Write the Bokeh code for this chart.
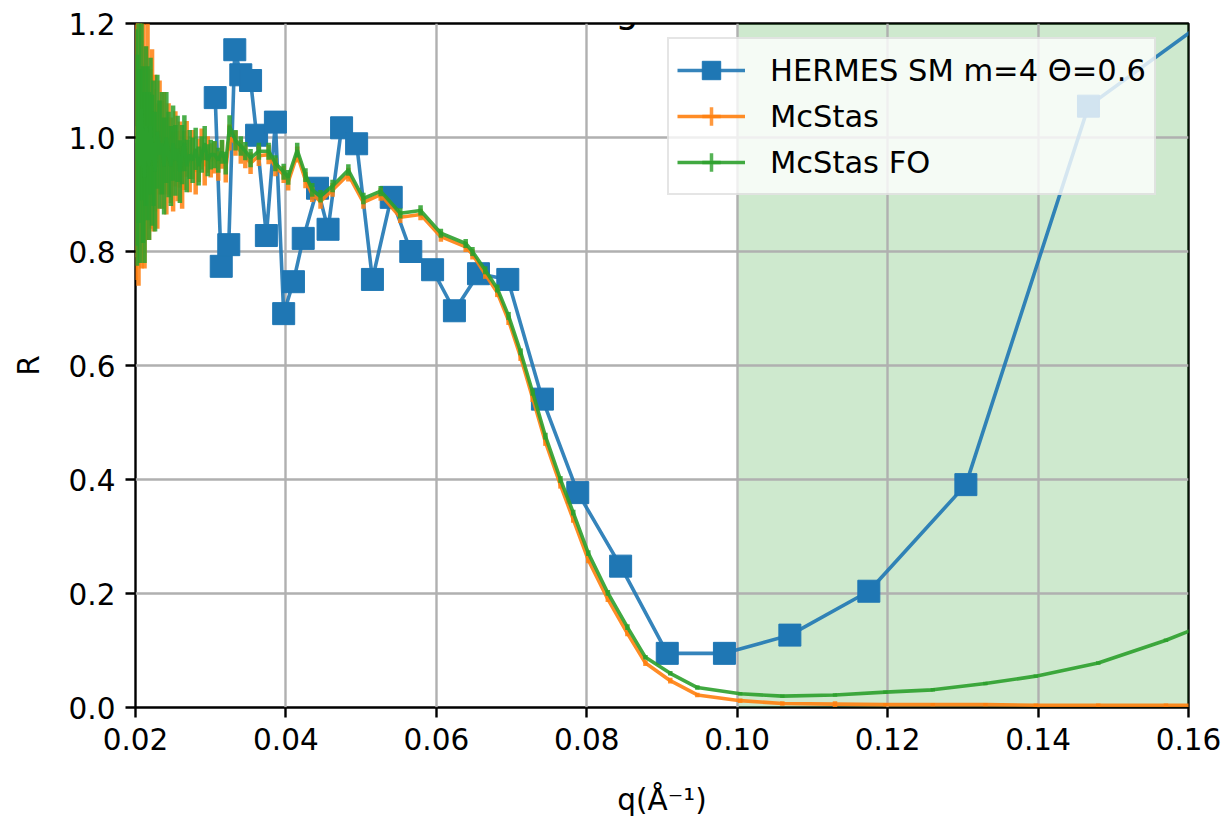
import numpy as np
from bokeh.plotting import figure
from bokeh.models import (ColumnDataSource, BoxAnnotation, Legend, LegendItem,
                          FixedTicker, NumeralTickFormatter, Label, Range1d)
from bokeh.embed import file_html
from bokeh.resources import INLINE

# ---------------- data ----------------
TITLE = "Counting time: 2.5 h"
X_LABEL = "q(Å⁻¹)"
Y_LABEL = "R"
X_TICKS = [0.02, 0.04, 0.06, 0.08, 0.10, 0.12, 0.14, 0.16]
Y_TICKS = [0.0, 0.2, 0.4, 0.6, 0.8, 1.0, 1.2]
SHADE_FROM = 0.10
SHADE_TO = 0.20

hermes_label = "HERMES SM m=4 Θ=0.6"
hermes_q = [0.0306, 0.0314, 0.0324, 0.0332, 0.0340, 0.0353, 0.0361, 0.0374, 0.0386,
            0.0397, 0.0410, 0.0423, 0.0442, 0.0456, 0.0474, 0.0494, 0.0515, 0.0540,
            0.0566, 0.0595, 0.0624, 0.0656, 0.0695, 0.0741, 0.0788, 0.0845, 0.0907,
            0.0983, 0.1070, 0.1175, 0.1304, 0.1467, 0.1670]
hermes_r = [1.070, 0.774, 0.812, 1.154, 1.110, 1.100, 1.004, 0.828, 1.027,
            0.691, 0.747, 0.823, 0.911, 0.839, 1.017, 0.989, 0.751, 0.895,
            0.800, 0.768, 0.696, 0.761, 0.751, 0.541, 0.377, 0.248, 0.095,
            0.095, 0.127, 0.204, 0.391, 1.055, 1.250]

mc_q = [0.0200, 0.0202, 0.0204, 0.0206, 0.0208, 0.0210, 0.0212, 0.0214, 0.0216, 0.0218,
        0.0220, 0.0222, 0.0224, 0.0226, 0.0229, 0.0232, 0.0235, 0.0238, 0.0241, 0.0244,
        0.0247, 0.0250, 0.0253, 0.0256, 0.0259, 0.0262, 0.0265, 0.0268, 0.0272, 0.0276,
        0.0280, 0.0284, 0.0288, 0.0292, 0.0296, 0.0300,
        0.0305, 0.0310, 0.0315, 0.0320, 0.0325, 0.0333, 0.0340, 0.0346, 0.0353, 0.0364,
        0.0377, 0.0386, 0.0397, 0.0403, 0.0415, 0.0426, 0.0435, 0.0446, 0.0462, 0.0483,
        0.0503, 0.0526, 0.0552, 0.0579, 0.0606, 0.0639, 0.0648, 0.0665, 0.0681, 0.0696,
        0.0712, 0.0728, 0.0745, 0.0765, 0.0782, 0.0802, 0.0828, 0.0854, 0.0878, 0.0911,
        0.0947, 0.1004, 0.1060, 0.1130, 0.1197, 0.1260, 0.1330, 0.1397, 0.1480, 0.1570,
        0.1660]

mcstas_r = [0.99, 1.02, 0.96, 1.03, 0.97, 1.01, 0.95, 0.99, 1.04, 0.97,
            0.98, 1.02, 0.96, 0.99, 0.95, 1.00, 0.97, 0.99, 0.95, 0.98,
            0.96, 0.94, 0.98, 0.95, 0.97, 0.93, 0.96, 0.98, 0.95, 0.97,
            0.94, 0.96, 0.98, 0.95, 0.97, 0.96,
            0.965, 0.95, 0.97, 0.945, 1.00, 0.99, 0.975, 0.966, 0.955, 0.968,
            0.97, 0.948, 0.935, 0.922, 0.97, 0.925, 0.90, 0.888, 0.908, 0.935,
            0.886, 0.90, 0.86, 0.865, 0.826, 0.808, 0.795, 0.76, 0.728, 0.679,
            0.615, 0.543, 0.466, 0.39, 0.33, 0.259, 0.19, 0.13, 0.078, 0.047,
            0.022, 0.012, 0.007, 0.006, 0.005, 0.005, 0.005, 0.004, 0.004, 0.004,
            0.004]
mcstas_err = [0.24, 0.23, 0.22, 0.21, 0.20, 0.19, 0.18, 0.17, 0.16, 0.15,
              0.14, 0.135, 0.125, 0.12, 0.11, 0.10, 0.095, 0.09, 0.085, 0.08,
              0.075, 0.07, 0.066, 0.062, 0.058, 0.055, 0.052, 0.049, 0.046, 0.043,
              0.04, 0.038, 0.036, 0.034, 0.032, 0.03,
              0.028, 0.026, 0.025, 0.024, 0.023, 0.022, 0.021, 0.02, 0.019, 0.018,
              0.017, 0.016, 0.015, 0.015, 0.014, 0.014, 0.013, 0.013, 0.012, 0.012,
              0.011, 0.011, 0.010, 0.010, 0.009, 0.009, 0.009, 0.008, 0.008, 0.008,
              0.007, 0.007, 0.007, 0.006, 0.006, 0.006, 0.005, 0.005, 0.005, 0.005,
              0.004, 0.004, 0.004, 0.005, 0.003, 0.003, 0.003, 0.003, 0.003, 0.003,
              0.003]

mcstas_fo_r = [1.00, 0.96, 1.03, 0.95, 1.05, 0.97, 0.93, 1.02, 0.99, 0.95,
               1.02, 0.96, 0.99, 0.94, 1.01, 0.97, 0.99, 0.95, 1.00, 0.97,
               0.95, 0.99, 0.96, 0.98, 0.94, 0.97, 0.99, 0.95, 0.97, 0.96,
               0.98, 0.95, 0.97, 0.99, 0.96, 0.97,
               0.97, 0.96, 0.975, 0.955, 1.02, 0.995, 0.985, 0.976, 0.964, 0.976,
               0.976, 0.955, 0.94, 0.93, 0.978, 0.934, 0.908, 0.897, 0.915, 0.943,
               0.893, 0.906, 0.867, 0.872, 0.832, 0.814, 0.80, 0.767, 0.735, 0.687,
               0.624, 0.553, 0.476, 0.40, 0.342, 0.271, 0.201, 0.141, 0.088, 0.060,
               0.035, 0.024, 0.020, 0.022, 0.027, 0.031, 0.042, 0.055, 0.078, 0.118,
               0.165]
mcstas_fo_err = [0.19, 0.185, 0.18, 0.17, 0.16, 0.155, 0.15, 0.14, 0.135, 0.13,
                 0.12, 0.115, 0.11, 0.105, 0.10, 0.095, 0.09, 0.085, 0.08, 0.075,
                 0.07, 0.066, 0.062, 0.058, 0.055, 0.052, 0.049, 0.046, 0.043, 0.04,
                 0.037, 0.034, 0.032, 0.03, 0.028, 0.026,
                 0.024, 0.022, 0.021, 0.02, 0.019, 0.018, 0.017, 0.016, 0.016, 0.015,
                 0.015, 0.014, 0.014, 0.013, 0.013, 0.012, 0.012, 0.011, 0.011, 0.010,
                 0.010, 0.009, 0.009, 0.009, 0.008, 0.008, 0.008, 0.007, 0.007, 0.007,
                 0.006, 0.006, 0.006, 0.006, 0.005, 0.005, 0.005, 0.005, 0.004, 0.004,
                 0.004, 0.003, 0.003, 0.003, 0.003, 0.003, 0.003, 0.003, 0.003, 0.003,
                 0.003]

# ---------------- style ----------------
BLUE, ORANGE, GREEN = "#1f77b4", "#ff7f0e", "#2ca02c"
FONT = "DejaVu Sans"
FS = "29.5px"

p = figure(width=1225, height=820,
           x_range=Range1d(0.02, 0.16), y_range=Range1d(0.0, 1.2),
           output_backend="svg", toolbar_location=None,
           min_border_left=135, min_border_right=37,
           min_border_top=23, min_border_bottom=113,
           background_fill_color="white", border_fill_color="white")

p.outline_line_color = "black"
p.outline_line_width = 2.4

shade = BoxAnnotation(left=SHADE_FROM, right=SHADE_TO, fill_color=GREEN,
                      fill_alpha=0.23, line_color=None, level="image")
p.add_layout(shade)

for g in (p.xgrid, p.ygrid):
    g.grid_line_color = "#b0b0b0"
    g.grid_line_width = 2.4
p.xgrid.ticker = FixedTicker(ticks=X_TICKS)
p.ygrid.ticker = FixedTicker(ticks=Y_TICKS)

p.xaxis.ticker = FixedTicker(ticks=X_TICKS)
p.yaxis.ticker = FixedTicker(ticks=Y_TICKS)
p.xaxis.formatter = NumeralTickFormatter(format="0.00")
p.yaxis.formatter = NumeralTickFormatter(format="0.0")
for ax in (p.xaxis[0], p.yaxis[0]):
    ax.axis_line_color = None
    ax.major_tick_line_color = "black"
    ax.major_tick_line_width = 2.4
    ax.major_tick_out = 10
    ax.major_tick_in = 0
    ax.minor_tick_line_color = None
    ax.major_label_standoff = 10
    ax.major_label_text_font = FONT
    ax.major_label_text_font_size = FS
    ax.major_label_text_color = "black"
    ax.axis_label_text_font = FONT
    ax.axis_label_text_font_size = FS
    ax.axis_label_text_font_style = "normal"
    ax.axis_label_text_color = "black"
p.xaxis.axis_label = X_LABEL
p.yaxis.axis_label = Y_LABEL
p.xaxis.axis_label_standoff = 30
p.yaxis.axis_label_standoff = 20

# HERMES
src_h = ColumnDataSource(dict(q=hermes_q, r=hermes_r))
h_line = p.line("q", "r", source=src_h, line_color=BLUE, line_width=3.6, line_alpha=0.9)
h_pts = p.scatter("q", "r", source=src_h, marker="square", size=22,
                  fill_color=BLUE, line_color=BLUE)

def errorbar_series(q, r, err, color):
    q = np.asarray(q); r = np.asarray(r); e = np.asarray(err)
    src = ColumnDataSource(dict(q=q, r=r, lo=r - e, hi=r + e))
    p.segment(x0="q", y0="lo", x1="q", y1="hi", source=src,
              line_color=color, line_width=4.5, line_alpha=0.85)
    ln = p.line("q", "r", source=src, line_color=color, line_width=3.6, line_alpha=0.9)
    key = p.scatter("q", "r", source=src, marker="cross", size=0,
                    line_color=color, line_width=3.5, line_alpha=0.8)
    return ln, key

o_line, o_key = errorbar_series(mc_q, mcstas_r, mcstas_err, ORANGE)
g_line, g_key = errorbar_series(mc_q, mcstas_fo_r, mcstas_fo_err, GREEN)

legend = Legend(items=[
    LegendItem(label=hermes_label, renderers=[h_line, h_pts]),
    LegendItem(label="McStas", renderers=[o_line, o_key]),
    LegendItem(label="McStas FO", renderers=[g_line, g_key]),
], location=(532, 512))
legend.label_text_font = FONT
legend.label_text_font_size = "30.5px"
legend.label_text_color = "black"
legend.glyph_width = 68
legend.glyph_height = 46
legend.label_height = 30
legend.label_standoff = 25
legend.spacing = 0
legend.padding = 8
legend.margin = 0
legend.border_line_color = "#cccccc"
legend.border_line_width = 2.4
legend.background_fill_color = "white"
legend.background_fill_alpha = 0.8
p.add_layout(legend)

title = Label(x=0.09, y=1.225, x_units="data", y_units="data", text=TITLE,
              text_font=FONT, text_font_size="37px", text_color="black",
              text_align="center", text_baseline="alphabetic")
p.add_layout(title)

open("out.html", "w").write(file_html(p, INLINE))
